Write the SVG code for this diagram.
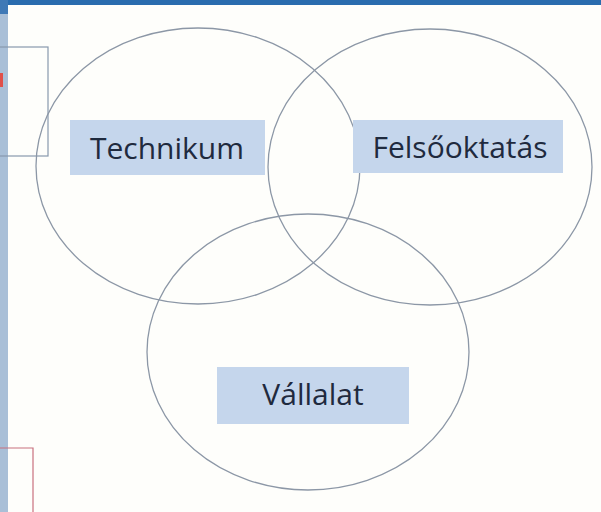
<svg xmlns="http://www.w3.org/2000/svg" width="601" height="512" viewBox="0 0 601 512">
<style>
.ell{fill:none;stroke:#8c97a6;stroke-width:1.3}
.box{fill:#c5d6ec}
.lbl{font-family:"Open Sans","Noto Sans","Liberation Sans",sans-serif;font-size:30px;fill:#1f2a3e;text-anchor:middle}
</style>
<rect x="0" y="0" width="601" height="512" fill="#fefefb"/>
<rect x="0" y="0" width="601" height="5" fill="#2a6cae"/>
<rect x="0" y="0" width="8" height="512" fill="#a9bfd7"/>
<rect x="0" y="0" width="8" height="14" fill="#3f79b6"/>
<rect x="0" y="73" width="3" height="14" fill="#e0504a"/>
<rect x="-2" y="47" width="50" height="109" fill="none" stroke="#8898ad" stroke-width="1.2"/>
<path d="M0 448 H33 V512" fill="none" stroke="#c8707e" stroke-width="1.2"/>
<g id="connectors"></g>
<g id="technikum">
<ellipse class="ell" cx="198" cy="166" rx="162" ry="138"/>
<rect class="box" x="70" y="120" width="195" height="55"/>
<text class="lbl" x="167" y="159">Technikum</text>
</g>
<g id="felsooktatas">
<ellipse class="ell" cx="430" cy="167" rx="162" ry="138"/>
<rect class="box" x="353" y="120" width="210" height="53"/>
<text class="lbl" x="460" y="158">Felsőoktatás</text>
</g>
<g id="vallalat">
<ellipse class="ell" cx="308" cy="352" rx="161" ry="138"/>
<rect class="box" x="217" y="367" width="192" height="57"/>
<text class="lbl" x="313" y="405">Vállalat</text>
</g>
</svg>
